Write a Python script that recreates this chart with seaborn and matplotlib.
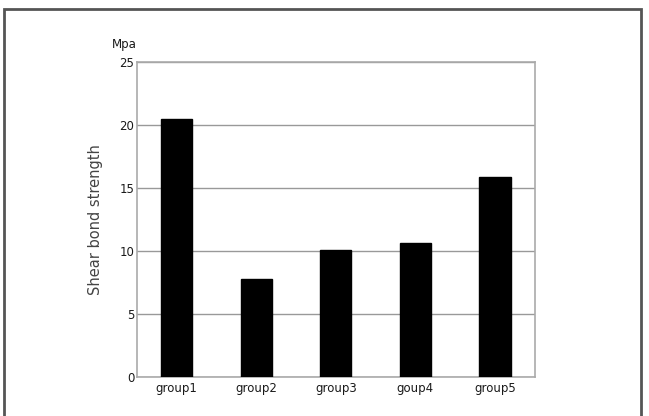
import seaborn as sns
import matplotlib.pyplot as plt
import pandas as pd
from matplotlib.patches import Rectangle

groups = ['group1', 'group2', 'group3', 'goup4', 'group5']
strength = [20.5, 7.8, 10.1, 10.6, 15.9]
yticks = [0, 5, 10, 15, 20, 25]

df = pd.DataFrame({'group': groups, 'strength': strength})

sns.set_style('white')
plt.rcParams['font.family'] = ['DejaVu Sans']

fig = plt.figure(figsize=(6.49, 4.16), dpi=100)
ax = fig.add_axes([0.211, 0.094, 0.613, 0.757])

sns.barplot(data=df, x='group', y='strength', color='black', width=0.39,
            saturation=1, edgecolor='black', ax=ax, zorder=3)

ax.set_ylim(0, 25)
ax.set_yticks(yticks)
ax.set_xlim(-0.5, 4.5)
ax.grid(axis='y', color='#999999', linewidth=1, zorder=0)
for s in ax.spines.values():
    s.set_color('#aaaaaa')
    s.set_linewidth(1.2)

ax.tick_params(axis='both', length=0, labelsize=8.5, colors='#1a1a1a')
ax.tick_params(axis='y', pad=2)
ax.tick_params(axis='x', pad=4)
# little separators between groups on the baseline
ax.set_xticks([0.5, 1.5, 2.5, 3.5], minor=True)
ax.tick_params(axis='x', which='minor', direction='in', length=3, color='#999999')

ax.set_xlabel('')
ax.set_ylabel('Shear bond strength', fontsize=10.5, color='#444444', labelpad=12)
fig.text(0.172, 0.893, 'Mpa', fontsize=8.5, color='#1a1a1a', ha='left', va='center')

fig.patches.append(Rectangle((0.006, -0.1), 0.981, 1.078, transform=fig.transFigure,
                             fill=False, edgecolor='#555555', linewidth=2))

fig.savefig('out.png', dpi=100)
plt.close(fig)
